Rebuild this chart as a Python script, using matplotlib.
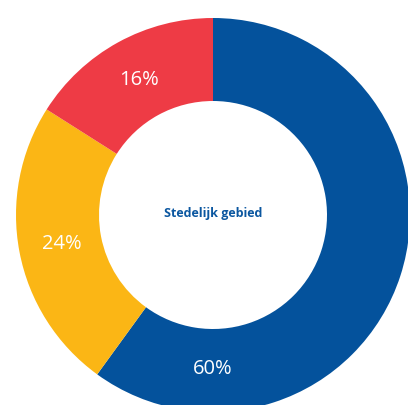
import numpy as np
import matplotlib.pyplot as plt

# Data
labels = ["60%", "24%", "16%"]
values = [60, 24, 16]
colors = ["#04529C", "#FBB615", "#EE3B45"]
center_text = "Stedelijk gebied"
# angle (deg) where each label sits; blue label is moved to the visible bottom part
label_angles = [270, None, None]

fig = plt.figure(figsize=(4.08, 4.05), dpi=100)
ax = fig.add_axes([0, 0, 1, 1])

cx, cy = 213, 190
R = 197
wedges, _ = ax.pie(values, colors=colors, startangle=90, counterclock=False,
                   radius=R, center=(cx, cy),
                   wedgeprops=dict(width=83, linewidth=0), frame=True)
ax.set_xlim(0, 408)
ax.set_ylim(0, 405)
ax.set_aspect("equal")
ax.axis("off")

for w, lab, ang in zip(wedges, labels, label_angles):
    if ang is None:
        ang = (w.theta1 + w.theta2) / 2
    r = 0.78 * R
    ax.text(cx + r * np.cos(np.radians(ang)), cy + r * np.sin(np.radians(ang)), lab,
            ha="center", va="center", color="white", fontsize=14.5, family="Open Sans")

ax.text(cx, cy + 1, center_text, ha="center", va="center", color="#0B57A0",
        fontsize=9, fontweight="bold", family="Open Sans")

fig.savefig("out.png", dpi=100)
